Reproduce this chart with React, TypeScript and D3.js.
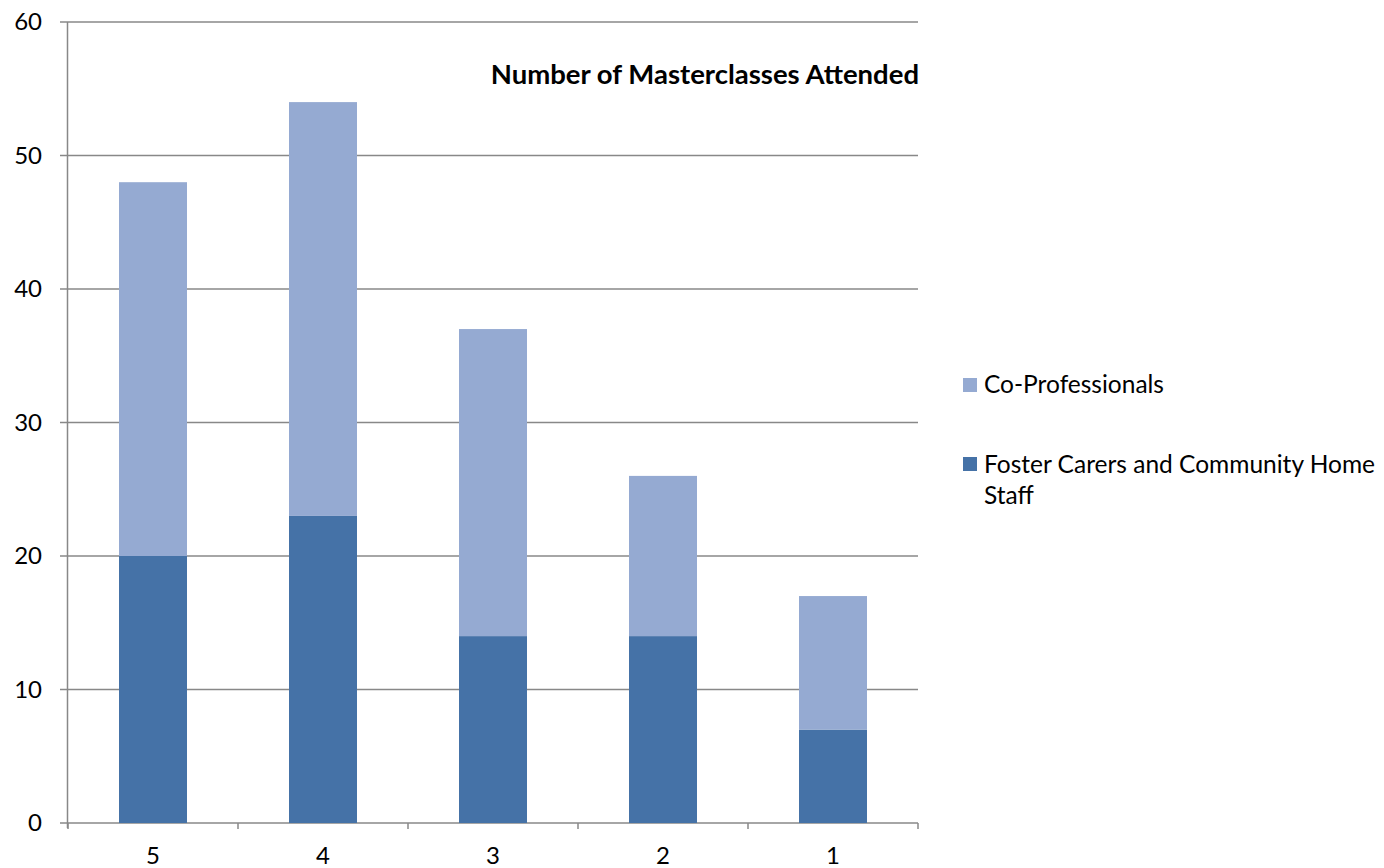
import React, { useEffect, useRef } from 'react';
import * as d3 from 'd3';

const categories = ['5', '4', '3', '2', '1'];
const fosterCarers = [20, 23, 14, 14, 7];
const coProfessionals = [28, 31, 23, 12, 10];
const yTicks = [0, 10, 20, 30, 40, 50, 60];
const seriesNames = ['Co-Professionals', 'Foster Carers and Community Home Staff'];

const App = () => {
  const ref = useRef<SVGSVGElement>(null);

  useEffect(() => {
    const width = 1384;
    const height = 868;
    const margin = { top: 22, right: 466, bottom: 45, left: 68 };
    const font = 'Lato, "Noto Sans", sans-serif';
    const dark = '#4572A7';
    const light = '#95AAD2';
    const gray = '#888888';

    const svg = d3.select(ref.current);
    svg.selectAll('*').remove();

    const x = d3
      .scaleBand()
      .domain(categories)
      .range([margin.left, width - margin.right])
      .paddingInner(0.6)
      .paddingOuter(0.3);

    const y = d3
      .scaleLinear()
      .domain([0, 60])
      .range([height - margin.bottom, margin.top]);

    // gridlines
    svg
      .append('g')
      .selectAll('line')
      .data(yTicks)
      .enter()
      .append('line')
      .attr('x1', margin.left - 8)
      .attr('x2', width - margin.right)
      .attr('y1', (d) => y(d))
      .attr('y2', (d) => y(d))
      .attr('stroke', gray)
      .attr('stroke-width', 1.5);

    const rows = categories.map((c, i) => ({
      cat: c,
      foster: fosterCarers[i],
      co: coProfessionals[i],
    }));

    const stack = d3.stack<any>().keys(['foster', 'co'])(rows);
    const colors = [dark, light];

    stack.forEach((layer, li) => {
      svg
        .append('g')
        .selectAll('rect')
        .data(layer)
        .enter()
        .append('rect')
        .attr('x', (d: any) => x(d.data.cat)!)
        .attr('width', x.bandwidth())
        .attr('y', (d) => y(d[1]))
        .attr('height', (d) => y(d[0]) - y(d[1]))
        .attr('fill', colors[li]);
    });

    // axes
    svg
      .append('line')
      .attr('x1', margin.left - 0.5)
      .attr('x2', margin.left - 0.5)
      .attr('y1', y(60))
      .attr('y2', y(0) + 5)
      .attr('stroke', gray)
      .attr('stroke-width', 1.5);

    const step = x.step();
    const bounds = d3.range(categories.length + 1).map((i) => margin.left + i * step);
    svg
      .append('g')
      .selectAll('line')
      .data(bounds)
      .enter()
      .append('line')
      .attr('x1', (d) => d)
      .attr('x2', (d) => d)
      .attr('y1', y(0))
      .attr('y2', y(0) + 6)
      .attr('stroke', gray)
      .attr('stroke-width', 1.5);

    svg
      .append('g')
      .selectAll('text')
      .data(yTicks)
      .enter()
      .append('text')
      .attr('x', 42)
      .attr('y', (d) => y(d) + 8)
      .attr('text-anchor', 'end')
      .style('font-family', font)
      .style('font-size', '24px')
      .text((d) => d);

    svg
      .append('g')
      .selectAll('text')
      .data(categories)
      .enter()
      .append('text')
      .attr('x', (d) => x(d)! + x.bandwidth() / 2)
      .attr('y', 864)
      .attr('text-anchor', 'middle')
      .style('font-family', font)
      .style('font-size', '24px')
      .text((d) => d);

    svg
      .append('text')
      .attr('x', width - margin.right + 1)
      .attr('y', 84)
      .attr('text-anchor', 'end')
      .style('font-family', font)
      .style('font-size', '27.5px')
      .style('font-weight', 'bold')
      .text('Number of Masterclasses Attended');

    // legend
    const legend = svg.append('g');
    const legendY = [378, 457];
    const legendColors = [light, dark];
    legend
      .selectAll('rect')
      .data(seriesNames)
      .enter()
      .append('rect')
      .attr('x', 963)
      .attr('y', (d, i) => legendY[i])
      .attr('width', 14)
      .attr('height', 14)
      .attr('fill', (d, i) => legendColors[i]);

    legend
      .append('text')
      .attr('x', 984)
      .attr('y', 393)
      .style('font-family', font)
      .style('font-size', '24.5px')
      .text(seriesNames[0]);

    const t = legend
      .append('text')
      .attr('x', 984)
      .attr('y', 473)
      .style('font-family', font)
      .style('font-size', '24.5px');
    t.append('tspan').attr('x', 984).text('Foster Carers and Community Home');
    t.append('tspan').attr('x', 984).attr('dy', 31).text('Staff');
  }, []);

  return (
    <svg
      ref={ref}
      width={1384}
      height={868}
      style={{ position: 'absolute', top: 0, left: 0, background: '#fff' }}
    />
  );
};

export default App;
